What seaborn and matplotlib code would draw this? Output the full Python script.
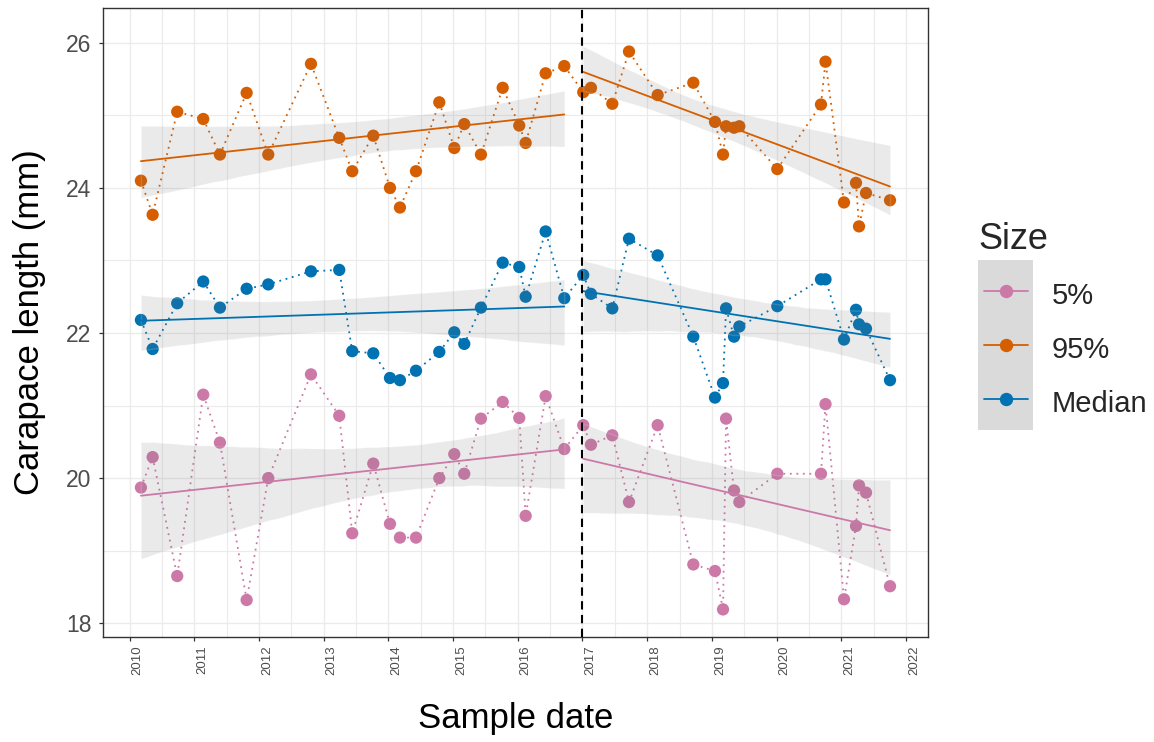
import numpy as np
import pandas as pd
import matplotlib
matplotlib.use("Agg")
import matplotlib.pyplot as plt
import matplotlib.transforms as mtransforms
from matplotlib.lines import Line2D
from matplotlib.patches import Rectangle
from matplotlib.legend_handler import HandlerBase
import seaborn as sns

# Sampling dates (decimal years)
sample_date = [
    2010.176, 2010.357, 2010.737, 2011.139, 2011.397, 2011.810, 2012.144,
    2012.804, 2013.241, 2013.442, 2013.767, 2014.025, 2014.179, 2014.427,
    2014.787, 2015.019, 2015.173, 2015.431, 2015.767, 2016.023, 2016.122,
    2016.431, 2016.719,
    2017.012, 2017.131, 2017.461, 2017.719, 2018.162, 2018.713, 2019.048,
    2019.172, 2019.219, 2019.342, 2019.424, 2020.011, 2020.686, 2020.756,
    2021.042, 2021.227, 2021.274, 2021.382, 2021.753,
]

# Carapace length percentiles (mm) per sample
length_p05 = [
    19.87, 20.29, 18.65, 21.15, 20.49, 18.32, 20.00,
    21.43, 20.86, 19.24, 20.20, 19.37, 19.18, 19.18,
    20.00, 20.33, 20.06, 20.82, 21.05, 20.83, 19.48,
    21.13, 20.40,
    20.73, 20.46, 20.59, 19.67, 20.73, 18.81, 18.72,
    18.19, 20.82, 19.83, 19.67, 20.06, 20.06, 21.02,
    18.33, 19.34, 19.90, 19.80, 18.51,
]
length_p95 = [
    24.10, 23.63, 25.05, 24.95, 24.46, 25.31, 24.46,
    25.71, 24.69, 24.23, 24.72, 24.00, 23.73, 24.23,
    25.18, 24.55, 24.88, 24.46, 25.38, 24.86, 24.62,
    25.58, 25.68,
    25.32, 25.38, 25.16, 25.88, 25.28, 25.45, 24.91,
    24.46, 24.85, 24.83, 24.85, 24.26, 25.15, 25.74,
    23.80, 24.07, 23.47, 23.93, 23.83,
]
length_median = [
    22.18, 21.78, 22.41, 22.71, 22.35, 22.61, 22.67,
    22.85, 22.87, 21.75, 21.72, 21.38, 21.35, 21.48,
    21.74, 22.01, 21.85, 22.35, 22.97, 22.91, 22.50,
    23.40, 22.48,
    22.80, 22.54, 22.34, 23.30, 23.07, 21.95, 21.11,
    21.31, 22.34, 21.95, 22.09, 22.37, 22.74, 22.74,
    21.91, 22.32, 22.12, 22.06, 21.35,
]

size_classes = ["5%", "95%", "Median"]
year_ticks = list(range(2010, 2023))
y_ticks = [18, 20, 22, 24, 26]
change_year = 2017

palette = {"5%": "#CC79A7", "95%": "#D55E00", "Median": "#0072B2"}
band_grey = "#787878"
key_grey = "#DADADA"
grid_grey = "#EBEBEB"
axis_grey = "#4D4D4D"

values = {"5%": length_p05, "95%": length_p95, "Median": length_median}
df = pd.concat(
    [pd.DataFrame({"date": sample_date, "length": values[s], "Size": s})
     for s in size_classes],
    ignore_index=True,
)
df["period"] = np.where(df["date"] < change_year, "before", "after")

sns.set_theme(style="whitegrid")
plt.rcParams["font.family"] = ["Liberation Sans", "DejaVu Sans"]

fig = plt.figure(figsize=(11.54, 7.42), dpi=100)
W, H = 1154, 742
ax = fig.add_axes([103 / W, 1 - 637 / H, 825 / W, 629 / H])
ax.set_facecolor("white")

# dotted connectors between consecutive samples
sns.lineplot(data=df, x="date", y="length", hue="Size", palette=palette,
             hue_order=size_classes, estimator=None, sort=True,
             linestyle=(0, (1, 2.6)), linewidth=1.3, legend=False, ax=ax,
             zorder=1)
# sample points
sns.scatterplot(data=df, x="date", y="length", hue="Size", palette=palette,
                hue_order=size_classes, s=78, linewidth=0, legend=False,
                ax=ax, zorder=1)

# linear fits with 95% confidence bands, separately before / after the change
for size in size_classes:
    for period in ["before", "after"]:
        sub = df[(df["Size"] == size) & (df["period"] == period)]
        sns.regplot(data=sub, x="date", y="length", scatter=False, ci=95,
                    seed=3, n_boot=2000, truncate=True,
                    line_kws={"color": band_grey, "linewidth": 0}, ax=ax)
        sns.regplot(data=sub, x="date", y="length", scatter=False, ci=None,
                    truncate=True,
                    line_kws={"color": palette[size], "linewidth": 1.3},
                    ax=ax)

ax.axvline(change_year, color="black", linestyle=(0, (4, 2.6)),
           linewidth=1.5, zorder=3)

ax.set_xlim(2009.59, 2022.34)
ax.set_ylim(17.81, 26.48)
ax.set_xticks(year_ticks)
ax.set_xticks([y + 0.5 for y in year_ticks[:-1]], minor=True)
ax.set_xticklabels([str(y) for y in year_ticks])
ax.set_yticks(y_ticks)
ax.set_yticks([19, 21, 23, 25], minor=True)

ax.set_axisbelow(True)
ax.grid(which="major", color=grid_grey, linewidth=1.0)
ax.grid(which="minor", color=grid_grey, linewidth=0.8)
for sp in ax.spines.values():
    sp.set_visible(True)
    sp.set_color("#333333")
    sp.set_linewidth(1.0)

ax.tick_params(axis="both", which="major", direction="out", length=3.2,
               width=0.9, color="#333333", bottom=True, left=True)
ax.tick_params(axis="both", which="minor", length=0)
ax.tick_params(axis="y", labelsize=16.5, labelcolor=axis_grey, pad=5)
ax.tick_params(axis="x", labelsize=9.5, labelcolor=axis_grey, pad=3,
               labelrotation=90)

offset = mtransforms.ScaledTranslation(8 / 100, 0, fig.dpi_scale_trans)
for lab in ax.get_xticklabels():
    lab.set_transform(lab.get_transform() + offset)

ax.set_xlabel("Sample date", fontsize=25, color="black")
ax.set_ylabel("Carapace length (mm)", fontsize=25, color="black")
ax.xaxis.set_label_coords(0.5, -0.104)
ax.yaxis.set_label_coords(-0.069, 0.5)


class KeyWithBackground(HandlerBase):
    """Legend key: grey tile with a short line and a point."""

    def create_artists(self, legend, orig_handle, xdescent, ydescent,
                       width, height, fontsize, trans):
        gap = legend.labelspacing * fontsize
        bg = Rectangle((-xdescent, -ydescent - gap / 2), width,
                       height + ydescent + gap, facecolor=key_grey,
                       edgecolor="none", transform=trans)
        ymid = (height - ydescent) / 2
        x0 = -xdescent + 0.1 * width
        x1 = -xdescent + 0.9 * width
        line = Line2D([x0, x1], [ymid, ymid], color=orig_handle.get_color(),
                      linewidth=1.3, transform=trans)
        dot = Line2D([(x0 + x1) / 2], [ymid], color=orig_handle.get_color(),
                     marker="o", markersize=8.6, linestyle="none",
                     transform=trans)
        return [bg, line, dot]


handles = [Line2D([0], [0], color=palette[s]) for s in size_classes]
leg = fig.legend(handles, size_classes, title="Size",
                 handler_map={Line2D: KeyWithBackground()},
                 loc="upper left", bbox_to_anchor=(978 / W, 1 - 222 / H),
                 bbox_transform=fig.transFigure, frameon=False,
                 fontsize=21, title_fontsize=26, handlelength=1.9,
                 handleheight=1.4, labelspacing=0.7, handletextpad=0.62,
                 borderpad=0, borderaxespad=0, alignment="left")

fig.savefig("out.png", dpi=100, facecolor="white")
